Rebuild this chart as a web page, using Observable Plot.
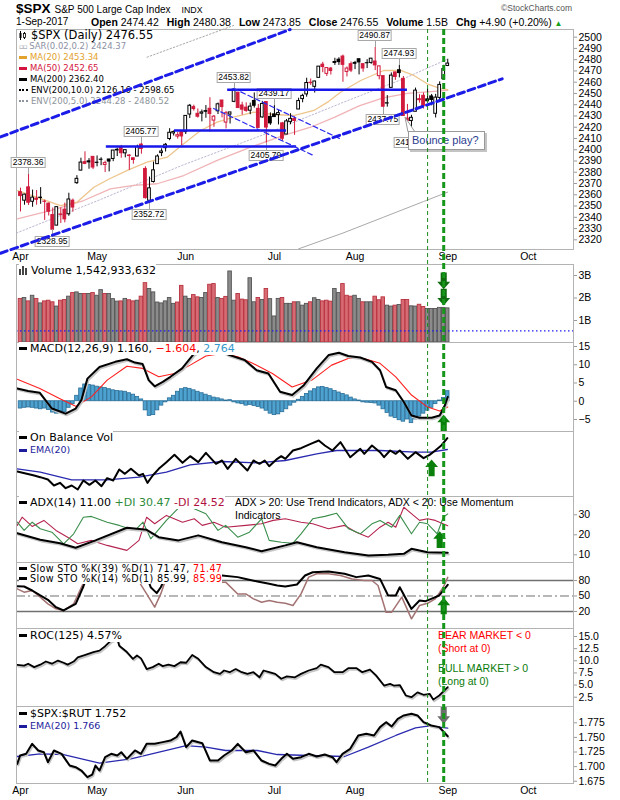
<!DOCTYPE html>
<html>
<head>
<meta charset="utf-8">
<script src="https://cdn.jsdelivr.net/npm/d3@7"></script>
<script src="https://cdn.jsdelivr.net/npm/@observablehq/plot@0.6"></script>
<style>
html,body{margin:0;padding:0;background:#fff;}
#wrap{position:relative;width:620px;height:800px;overflow:hidden;background:#fff;font-family:'Liberation Sans',Arial,sans-serif;color:#000;}
#wrap svg{overflow:visible;}
.t{position:absolute;white-space:nowrap;}
.leg{position:absolute;left:19px;font-family:'DejaVu Sans',Verdana,sans-serif;font-size:11px;line-height:12px;white-space:nowrap;}
.leg .bg{background:#fff;}
.ln{display:inline-block;width:8px;height:3px;vertical-align:middle;margin:0 3px 1px 0;}
.dt{display:inline-block;width:9px;height:0;border-top:2px dotted;vertical-align:middle;margin:0 3px 1px 0;}
.lbl{position:absolute;transform:translateX(-50%);background:#fff;border:1px solid #a8a8a8;font-size:8.5px;line-height:9px;padding:0 1px;white-space:nowrap;font-family:'Liberation Sans',Arial,sans-serif;}
.lead{position:absolute;width:0;border-left:1px solid #a0a0a0;}
#wrap g[aria-label^="y-axis"] line, #wrap g[aria-label^="y-axis"] path{stroke:#9a9a9a;}
</style>
</head>
<body>
<div id="wrap"></div>
<script>
// ---------------- DATA ----------------
const tradingDays = [
 "04-03","04-04","04-05","04-06","04-07","04-10","04-11","04-12","04-13","04-17","04-18","04-19","04-20","04-21","04-24","04-25","04-26","04-27","04-28",
 "05-01","05-02","05-03","05-04","05-05","05-08","05-09","05-10","05-11","05-12","05-15","05-16","05-17","05-18","05-19","05-22","05-23","05-24","05-25","05-26","05-30","05-31",
 "06-01","06-02","06-05","06-06","06-07","06-08","06-09","06-12","06-13","06-14","06-15","06-16","06-19","06-20","06-21","06-22","06-23","06-26","06-27","06-28","06-29","06-30",
 "07-03","07-05","07-06","07-07","07-10","07-11","07-12","07-13","07-14","07-17","07-18","07-19","07-20","07-21","07-24","07-25","07-26","07-27","07-28","07-31",
 "08-01","08-02","08-03","08-04","08-07","08-08","08-09","08-10","08-11","08-14","08-15","08-16","08-17","08-18","08-21","08-22","08-23","08-24","08-25","08-28","08-29","08-30","08-31",
 "09-01"];
const closeBefore = 2362.72;
const open = [
 2362.34,2354.76,2366.59,2353.79,2356.59,2357.16,2353.92,2352.15,2341.98,2332.62,2342.53,2346.79,2342.69,2354.74,2370.33,2381.51,2388.98,2389.70,2393.68,
 2388.50,2391.05,2386.50,2391.36,2391.82,2399.94,2401.58,2396.79,2394.84,2392.44,2393.98,2404.55,2382.95,2354.69,2371.37,2387.21,2397.04,2401.41,2409.54,2414.50,2411.67,2415.63,
 2415.65,2431.28,2437.83,2431.92,2432.03,2434.27,2436.39,2425.88,2434.15,2443.75,2424.14,2431.24,2442.55,2450.66,2439.31,2437.40,2434.65,2443.32,2436.34,2428.70,2442.38,2429.20,
 2431.39,2430.78,2423.44,2413.52,2424.51,2427.35,2435.75,2444.99,2449.16,2459.50,2455.88,2463.85,2475.56,2467.40,2472.04,2477.88,2479.97,2482.76,2469.12,2475.94,
 2477.10,2480.38,2476.03,2476.88,2477.14,2478.35,2465.35,2465.38,2441.04,2454.96,2468.66,2470.60,2462.95,2427.64,2425.50,2433.75,2444.88,2447.91,2444.72,2447.35,2431.94,2446.06,2462.65,
 2474.42];
const high = [
 2365.87,2360.53,2378.36,2364.16,2363.76,2366.37,2355.22,2352.72,2348.26,2349.14,2348.35,2352.63,2361.37,2356.18,2376.98,2392.48,2398.16,2392.10,2393.68,
 2394.49,2392.93,2389.82,2391.43,2399.29,2401.36,2403.87,2399.74,2395.72,2392.44,2404.05,2405.77,2384.87,2375.74,2389.06,2395.46,2400.85,2405.58,2418.71,2416.68,2415.26,2415.99,
 2430.06,2440.23,2439.55,2436.21,2435.28,2439.27,2446.20,2430.38,2441.49,2443.75,2433.95,2433.15,2453.82,2450.66,2442.23,2441.62,2441.40,2450.42,2440.15,2442.97,2442.73,2432.71,
 2439.17,2434.90,2424.28,2426.92,2432.00,2429.30,2445.76,2449.32,2463.54,2462.82,2460.92,2473.83,2477.62,2472.54,2473.10,2481.24,2481.69,2484.04,2473.53,2477.96,
 2478.51,2480.38,2476.03,2480.00,2480.95,2490.87,2474.41,2465.38,2448.09,2468.22,2468.90,2474.93,2465.02,2440.27,2430.58,2454.77,2448.91,2450.39,2453.96,2449.12,2449.19,2460.31,2475.01,
 2480.38];
const low = [
 2344.73,2350.72,2350.52,2348.90,2350.74,2351.50,2337.25,2341.18,2328.95,2332.51,2334.54,2335.05,2340.91,2344.51,2369.19,2381.15,2386.78,2382.68,2382.36,
 2384.83,2385.82,2379.75,2380.35,2389.38,2393.92,2392.44,2392.79,2381.74,2387.19,2393.94,2396.05,2356.21,2352.72,2370.43,2386.92,2393.88,2397.99,2408.01,2412.20,2409.43,2403.59,
 2413.54,2427.71,2434.32,2428.12,2424.75,2427.94,2415.70,2419.97,2431.28,2428.34,2418.53,2422.88,2441.79,2436.60,2430.74,2433.27,2431.11,2437.03,2419.38,2428.02,2405.79,2421.65,
 2428.69,2422.05,2407.70,2413.52,2422.27,2412.79,2435.75,2441.69,2446.69,2457.16,2450.34,2463.85,2468.43,2465.06,2466.32,2474.91,2474.94,2459.93,2464.66,2468.53,
 2471.14,2466.48,2468.85,2472.08,2475.88,2470.32,2462.08,2437.75,2437.85,2454.96,2461.61,2463.86,2430.01,2420.69,2417.35,2433.67,2441.42,2436.19,2442.22,2439.03,2428.20,2443.77,2462.65,
 2473.85];
const close = [
 2358.84,2360.16,2352.95,2357.49,2355.54,2357.16,2353.78,2344.93,2328.95,2349.01,2342.19,2338.17,2355.84,2348.69,2374.15,2388.61,2387.45,2388.77,2384.20,
 2388.33,2391.17,2388.13,2389.52,2399.29,2399.38,2396.92,2399.63,2394.44,2390.90,2402.32,2400.67,2357.03,2365.72,2381.73,2394.02,2398.42,2404.39,2415.07,2415.82,2412.91,2411.80,
 2430.06,2439.07,2436.10,2429.33,2433.14,2433.79,2431.77,2429.39,2440.35,2437.92,2432.46,2433.15,2453.46,2437.03,2435.61,2434.50,2438.30,2439.07,2419.38,2440.69,2419.70,2423.41,
 2429.01,2432.54,2409.75,2425.18,2427.43,2425.53,2443.25,2447.83,2459.27,2459.14,2460.61,2473.83,2473.45,2472.54,2469.91,2477.13,2477.83,2475.42,2472.10,2470.30,
 2476.35,2477.57,2472.16,2476.83,2480.91,2474.92,2474.02,2438.21,2441.32,2465.84,2464.61,2468.11,2430.01,2425.55,2428.37,2452.51,2444.04,2438.97,2443.05,2444.24,2446.30,2457.59,2471.65,
 2476.55];
// volume, billions of shares
const volume = [
 1.96,2.00,1.85,2.10,1.96,1.76,1.85,1.88,1.81,1.62,1.88,1.91,2.06,2.22,2.25,2.18,2.18,2.18,2.22,
 2.10,2.35,2.18,2.18,1.95,1.84,1.85,1.96,1.90,1.85,1.88,2.06,2.66,2.40,2.25,1.80,1.76,1.85,2.00,1.74,1.80,2.54,
 2.06,1.96,2.13,2.03,2.00,2.22,2.59,2.62,2.00,1.96,2.05,3.18,1.88,2.18,1.93,1.90,2.88,1.81,2.00,1.91,2.40,1.95,
 1.18,1.96,2.00,1.74,1.74,1.81,1.81,1.66,1.74,1.81,1.99,1.91,1.85,1.88,1.84,2.40,2.22,2.62,2.10,2.06,
 2.10,1.96,1.81,1.81,1.81,2.06,1.90,2.03,1.66,1.62,1.66,1.69,1.91,1.91,1.63,1.62,1.70,1.60,1.51,1.51,1.51,1.56,1.56,
 1.54];
const lastVolumeExact = 1542933632;
const volumeLevel = 0.54;

// moving averages & envelope as [tradingDayIndex, value]
const ma20 = [[-0.7,2363.7],[4,2358],[9.9,2350.3],[14,2353.4],[18.2,2366.7],[22,2374],[26.5,2381.6],[31.4,2389],[36.4,2393.4],[40.5,2405.3],[44.7,2417.1],[48.8,2424.5],[52.9,2428.9],[57.9,2433.4],[62.9,2431.3],[67.8,2430.4],[72.8,2434.9],[76.5,2443],[79.4,2451.1],[84.4,2461.5],[90.1,2470.4],[94.3,2470.4],[97.6,2466],[100.9,2458.6],[104.2,2454.2],[106,2453.34]];
const ma50 = [[-0.8,2338.7],[7.4,2346],[15.7,2354.9],[22.3,2365.3],[28.1,2368.3],[33.9,2369.8],[40.5,2377.1],[48.8,2390.5],[57.1,2402.3],[65.3,2412.7],[72,2420],[78,2429],[84,2439],[90,2446],[96,2450],[106,2452.65]];
const ma200 = [[69,2312],[80,2326],[90,2340],[100,2354],[106,2362.40]];
const envUpper = [[-1,2326],[20,2356],[40,2386],[60,2413],[80,2442],[95,2463],[106,2480.52]];
const sarValue = 2424.37;
const envWide = [2126.16, 2598.65];
const envNarrow = [2244.28, 2480.52];

// annotations (tradingDayIndex, price)
const channelUpper = [[-4.96,2411.4],[66.9,2506.8]];
const channelLower = [[-4.96,2308.1],[119.5,2463.0]];
const channelOuter = [[31.4,2482.2],[52.9,2510.4]];
const declineA = [[47.9,2436.7],[72.7,2394.9]];
const declineB = [[52.85,2454.4],[79.16,2410.0]];
const levels = [{p:2453.3,i1:51.4,i2:96.0},{p:2417.1,i1:38.2,i2:66.0},{p:2402.9,i1:21.3,i2:68.5}];
const highLabels = [[2,2378.36],[30,2405.77],[53,2453.82],[63,2439.17],[88,2490.87],[94,2474.93]];
const lowLabels = [[8,2328.95],[32,2352.72],[61,2405.79],[90,2437.75],[97,2417.35]];
const calloutText = "Bounce play?";
const calloutAt = [96, 2425.55];
const signalDays = [101, 105];

// MACD
const macdLine = [[-0.8,3.5],[1.9,2.8],[4.8,2.3],[7.8,-2.0],[11.2,-3.4],[13.7,-2.0],[15.1,0.3],[16.6,6.2],[19.6,9.4],[23.5,10.8],[26.4,11.5],[28.4,10.6],[30.3,10.2],[31.8,5.8],[33.3,4.1],[35.3,5.3],[37.2,6.7],[40.1,9.0],[43.1,13.1],[46,14.6],[49,14.4],[51.7,12.7],[55.6,11.3],[58.6,8.5],[61.5,7.6],[64.4,2.6],[67.4,1.7],[70.3,4.4],[73.5,9.0],[76.5,12.7],[79,13.3],[81.3,12.4],[84.3,12.0],[87.2,10.8],[89.2,8.5],[90.7,3.9],[93.1,3.0],[95.1,-0.2],[97,-3.9],[99,-4.5],[102,-4.5],[104,-3.9],[105.3,-1.1],[106,1.160]];
const macdSignal = [[-0.8,6.0],[4.8,3.5],[9.8,0.7],[13.7,-1.4],[17.6,1.2],[21.5,5.8],[26.4,9.6],[30.3,9.0],[34.3,6.7],[38.2,7.6],[42.1,9.9],[46,12.4],[50,13.1],[53.9,12.2],[57.6,10.4],[62.5,7.6],[67.4,3.9],[72.3,5.8],[77.2,9.9],[81.3,11.7],[85.2,11.7],[89.2,10.4],[93.1,6.7],[97,1.7],[101,-1.6],[104,-2.7],[106,-1.604]];
const macdHist = [
 -2.0,-1.8,-1.7,-1.8,-2.0,-2.2,-2.0,-2.4,-3.1,-3.4,-2.8,-3.0,-1.8,
 -0.8,1.5,3.5,4.6,4.5,4.3,4.0,3.8,
 3.6,3.3,3.0,2.8,2.7,2.6,2.2,1.8,1.2,0.5,
 -2.5,-4.0,-3.8,-2.5,-1.2,-0.3,0.8,
 1.5,2.6,3.3,3.6,3.4,3.0,2.6,2.2,
 1.8,1.4,1.0,0.8,0.5,0.2,0.3,
 -0.3,-0.6,-0.8,-1.2,
 -1.0,-1.3,-1.6,-2.0,-2.6,-3.4,-3.8,
 -3.6,-3.0,-2.2,-1.2,-0.4,
 0.4,1.2,2.0,2.7,3.3,3.8,3.9,3.6,
 3.3,2.8,2.4,2.0,1.6,1.0,0.5,0.2,
 -0.3,-0.4,-0.5,-0.6,-1.2,
 -2.2,-3.2,-4.2,-4.6,-5.2,-5.6,-5.0,-6.0,
 -5.0,-4.2,-3.4,-2.6,-1.8,-0.8,0.2,0.9,2.764];

// On Balance Volume (relative units) and its EMA(20)
const obv = [[-0.8,75],[3.4,63],[4.9,58],[6.8,51],[8.3,33],[9.8,41],[11.2,25],[12.7,33],[14.2,21],[15.6,48],[17.1,35],[18.6,48],[20.1,31],[21.5,55],[23,48],[24.5,81],[25.9,68],[27.4,83],[29.4,63],[30.4,68],[31.5,41],[32.8,63],[34.3,83],[36.2,103],[38.2,125],[40.2,101],[42.1,121],[44.1,103],[46,131],[48.5,98],[50,108],[51.4,83],[53.4,113],[56.3,78],[57.8,108],[59.3,98],[60.6,108],[61.7,91],[63.7,113],[64.7,121],[65.7,113],[67.6,138],[69.6,145],[72,158],[74,168],[75.5,153],[77.4,138],[79.4,163],[81.8,118],[84.3,143],[85.3,128],[87.2,153],[89.2,133],[90.2,118],[91.7,138],[93.1,128],[94.1,138],[96.1,113],[98,133],[100,115],[101.5,125],[102.9,138],[104.4,153],[105.9,175]];
const obvEma = [[-0.8,83],[4.9,73],[12.7,50],[21.5,50],[29.4,58],[36.2,73],[42.1,95],[50,105],[58.8,101],[65.7,108],[73.5,128],[78.4,138],[83.3,138],[89.2,138],[98,133],[101.9,133],[105.9,141]];

// ADX / DI
const adx = [[-0.8,20.8],[4.9,17.5],[9.8,15.8],[13.7,13.5],[18.6,17.2],[26.4,23.5],[31.3,22.5],[34.3,18.8],[39.2,17.2],[44.1,19.7],[50,16.3],[55.9,13.8],[59.8,11.8],[65.7,14.7],[68.6,16.3],[73.5,13.8],[80.4,11.3],[86.3,9.7],[91.2,10],[95.1,10.5],[97,13],[101,11.3],[106,11.00]];
const plusDI = [[-0.8,26.3],[0.9,22.2],[2.9,26.3],[4.9,23],[7.8,21.3],[10.7,15.5],[13.2,20.5],[15.6,28.8],[17.6,29.2],[21.5,26.3],[24.5,24.7],[28.4,22.2],[30.4,26.3],[32.3,18],[36.2,27.2],[38.2,31.3],[41.1,37.2],[43.1,33],[46,30.5],[49,22.2],[50.9,24.7],[53.9,18.8],[56.8,21.3],[59.8,28],[61.7,17.2],[64.7,16.3],[67.6,15.8],[69.6,20.5],[72.5,28],[75.5,29.2],[78.4,30.8],[81.4,23],[84.3,20.5],[87.2,25.5],[89.2,27.2],[92.1,23.8],[94.1,29.7],[97,20.5],[99,26.3],[101,25.5],[103.4,20.5],[104.9,28.8],[106,30.47]];
const minusDI = [[-0.8,24.7],[0.4,28.8],[2.9,24.2],[5.8,27.2],[8.8,22.2],[11.7,18.8],[14.2,15.5],[17.6,17.2],[21.5,14.7],[26.4,12.2],[29.4,17.2],[31.3,28.8],[33.3,25.5],[36.2,29.7],[40.2,26.3],[43.1,28],[45.1,24.7],[48,26.3],[50.9,23.8],[55.9,24.7],[59.8,25.5],[62.7,27.2],[65.7,28],[69.6,26.3],[72.5,25.5],[76.4,23],[80.4,24.7],[83.3,21.3],[86.3,18.8],[89.2,23.8],[91.2,26.3],[93.1,23.8],[95.1,33.8],[97.5,29.7],[99,27.2],[101,28],[102.9,27.2],[106,24.52]];

// Slow stochastics
const sto39 = [[-0.8,69],[0.9,68.4],[2.9,60.6],[4.9,51],[6.8,42.6],[8.8,28.4],[10.7,22],[13.7,34.8],[15.6,68.4],[16.6,90],[19.6,98],[24.5,97],[28.4,95],[30.4,88],[31.8,78],[32.3,67],[33.8,55.5],[34.8,67],[36.2,89.7],[40.2,96],[43.1,97],[45.1,89.7],[50,89.7],[53.9,86.5],[55.9,83],[58.8,78],[61.7,73.5],[63.7,70.3],[65.7,68.4],[68.6,72.3],[70.6,89.7],[72.5,96],[76.4,97.4],[80.4,93],[83.3,86.5],[86.3,89.7],[89.2,83],[91.2,51],[93.1,51],[94.1,67],[97,25],[99,41.3],[100.5,40],[101.9,44.5],[103.9,51],[106,71.47]];
const sto14 = [[-0.8,63.9],[0.9,57.4],[2.9,60.6],[4.9,47.7],[6.8,34.8],[8.8,25.2],[10.7,22],[13.2,34.8],[15.6,75],[19.6,96],[24.5,92],[28.4,90],[31.3,54],[33.3,28.4],[34.8,54],[36.2,85],[40.2,95],[43.1,96],[45.1,88],[48,76.8],[50.9,76.8],[53.9,54],[55.9,54],[57.8,44.5],[59.8,38],[61.7,41.3],[63.7,38],[65.7,36],[67.6,31.6],[69.6,54],[71.5,86.5],[73.5,93],[76.4,93],[79.4,89.7],[82.3,83],[85.3,80],[87.2,80],[88.7,70.3],[90.7,18.7],[92.1,18.7],[94.6,47.7],[97,5.8],[99,31.6],[101,36],[102.9,44.5],[104.9,67],[106,85.99]];
const stoLevels = [80, 20];
const stoMid = 50;

// ROC(125)
const roc = [[-0.8,9.16],[0.9,9.0],[1.9,9.4],[3.4,8.7],[4.9,9.2],[6.3,9.85],[7.8,9.4],[9.3,10.05],[10.7,9.6],[11.7,9.2],[13.2,9.85],[14.2,10.7],[16.1,11.2],[18.1,11.8],[19.6,12.1],[21,13.0],[22.5,14.2],[24,14.6],[24.5,13.1],[26.4,11.8],[27.9,10.4],[28.9,11.1],[29.9,10.5],[31.3,8.3],[32.8,8.7],[34.3,9.4],[35.3,8.9],[36.7,9.2],[38.2,8.9],[39.7,9.7],[41.1,9.6],[42.6,11.2],[44.1,10.4],[46,8.7],[48,7.65],[49.5,7.3],[50.5,8.0],[51.9,7.65],[53.4,8.3],[54.9,7.65],[56.3,7.3],[57.8,7.65],[59.3,6.6],[60.3,8.0],[61.7,7.65],[63.2,7.3],[64.7,6.3],[66.1,6.8],[68.1,6.6],[69.6,7.3],[71.5,8.0],[73.5,8.5],[74.5,9.2],[76.4,8.7],[77.9,7.65],[79.9,7.65],[81.4,8.5],[83.3,8.5],[84.8,7.65],[86.7,8.2],[88.2,7.0],[90.2,4.9],[91.7,5.25],[92.6,4.9],[94.1,5.0],[95.6,2.85],[97,2.5],[98.5,3.5],[100,3.0],[101.5,3.2],[102.4,2.0],[103.9,2.85],[106,4.57]];

// $SPX:$RUT ratio and EMA(20)
const ratio = [[-0.8,1.7047],[-0.1,1.719],[1.4,1.7219],[2.9,1.739],[4.4,1.7276],[5.8,1.7247],[6.8,1.7076],[8.3,1.7276],[10.2,1.7219],[12.2,1.7019],[13.7,1.699],[15.1,1.6933],[16.6,1.6819],[17.8,1.6864],[18.6,1.7019],[19.6,1.6933],[21,1.7161],[22.5,1.7219],[24,1.719],[25,1.7247],[26.4,1.7133],[28.4,1.7276],[29.9,1.7219],[31.3,1.739],[33.3,1.739],[35.3,1.7419],[37.2,1.7447],[38.7,1.7504],[39.7,1.7601],[41.1,1.7333],[42.6,1.7447],[45.1,1.7401],[47,1.7104],[49,1.7104],[50.5,1.719],[52.4,1.7276],[53.9,1.739],[55.9,1.7247],[57.8,1.7276],[59.8,1.7104],[61.7,1.7047],[63.2,1.7019],[64.7,1.7133],[66.1,1.7219],[67.6,1.7133],[69.6,1.7161],[71.5,1.7219],[73.5,1.7173],[75.5,1.7207],[77.4,1.7161],[78.4,1.7076],[79.9,1.7219],[81.8,1.7304],[83.8,1.7533],[85.8,1.7561],[87.7,1.7533],[89.2,1.7676],[90.7,1.7761],[92.1,1.7687],[93.6,1.7819],[95.1,1.7876],[97,1.7904],[98.5,1.7876],[100,1.7761],[101.9,1.7704],[103.9,1.7676],[106,1.752]];
const ratioEma = [[-0.8,1.7173],[4.9,1.7219],[10.7,1.7207],[19.6,1.7059],[27.4,1.7133],[36.2,1.7276],[41.1,1.7361],[46,1.7333],[50.9,1.7276],[58.8,1.7276],[63.7,1.7207],[71.5,1.719],[80.4,1.7173],[86.3,1.7333],[93.1,1.7533],[98,1.7664],[101,1.7693],[103.9,1.7676],[106,1.766]];

// arrows [tradingDayIndex, value]
const volArrows = [[105,2.76],[105,2.04]];
const macdArrow = [[105,-6.0]];
const obvArrow = [[102,86]];
const adxArrow = [[104,17.6]];
const stoArrow = [[105,30.7]];
const ratioArrow = [[105,1.7875]];

// ticks
const monthTickIdx = [0,19,41,63,83,106,126];
const monthLabels = ["Apr","May","Jun","Jul","Aug","Sep","Oct"];
const priceTicks = d3.range(2320, 2501, 10);
const volTicks = [1,2,3];
const macdTicks = [15,10,5,0,-5];
const adxTicks = [30,20,10];
const stoTicks = [80,50,20];
const rocTicks = [15,12.5,10,7.5,5,2.5];
const ratioTicks = [1.775,1.75,1.725,1.7,1.675];

// ---------------- LAYOUT ----------------
const wrap = document.getElementById("wrap");
const W = 620, ML = 16, MR = 47;
const xDomain = [-0.99, 137.2];
const axisFont = "'Liberation Sans', Arial, sans-serif";
const monthName = new Map(monthTickIdx.map((d, k) => [d, monthLabels[k]]));
const px = d => d[0], py = d => d[1];
const RED = "#d11a3c";

function addPlot(opts, top) {
  const p = Plot.plot(Object.assign({
    width: W, marginLeft: ML, marginRight: MR, marginTop: 0,
    color: {type: "identity"},
    style: {background: "transparent", overflow: "visible", fontFamily: axisFont, fontSize: "10.5px", color: "#000"}
  }, opts));
  p.style.position = "absolute"; p.style.left = "0px"; p.style.top = top + "px";
  wrap.appendChild(p);
  return p;
}
function yOpt(domain, ticks, fmt) {
  return ticks ? {domain, axis: "right", ticks, tickFormat: fmt, tickSize: 3, tickPadding: 2, label: null}
               : {domain, axis: null};
}
function shadow(data) {
  return Plot.line(data, {x: px, y: py, stroke: "#c6c6c6", strokeWidth: 2, dx: 1, dy: 1.6});
}
function arrowSym(dir) {
  return {draw(ctx, size) {
    const r = Math.sqrt(size / Math.PI);
    const h = 1.05 * r, w = 0.8 * r, hh = 0.95 * r, sw = 0.38 * r, s = dir;
    ctx.moveTo(0, s * h);
    ctx.lineTo(w, s * (h - hh)); ctx.lineTo(sw, s * (h - hh));
    ctx.lineTo(sw, -s * h); ctx.lineTo(-sw, -s * h);
    ctx.lineTo(-sw, s * (h - hh)); ctx.lineTo(-w, s * (h - hh));
    ctx.closePath();
  }};
}
const UP = arrowSym(-1), DOWN = arrowSym(1);
function arrows(data, sym, fill) {
  return Plot.dot(data, {x: px, y: py, r: 8, symbol: sym, fill, stroke: "none"});
}
const frame = () => Plot.frame({stroke: "#b3b3b3"});

// candles
const candles = close.map((c, i) => {
  const prev = i ? close[i - 1] : closeBefore;
  return {i, o: open[i], h: high[i], l: low[i], c, color: c >= prev ? "#000" : RED};
});
const volData = volume.map((v, i) => ({i, v, down: candles[i].color === RED}));

// panels
const PM = {top: 29, bottom: 249, y: [2311.4, 2506.8]};
const PV = {top: 264, bottom: 342, y: [0.022, 3.49]};
const PD = {top: 342, bottom: 431, y: [-8.29, 16.1]};
const PO = {top: 431, bottom: 496, y: [0, 195]};
const PA = {top: 496, bottom: 562, y: [6.15, 39.15]};
const PS = {top: 562, bottom: 628, y: [-12.9, 114.8]};
const PR = {top: 628, bottom: 706, y: [0.585, 16.65]};
const PX = {top: 706, bottom: 783, y: [1.6711, 1.8029]};

const mainPlot = addPlot({
  height: PM.bottom - PM.top + 20, marginBottom: 20,
  x: {domain: xDomain, ticks: monthTickIdx, tickFormat: d => monthName.get(d), tickSize: 0, tickPadding: 3, label: null},
  y: yOpt(PM.y, priceTicks, d3.format("d")),
  marks: [
    Plot.line(envUpper, {x: px, y: py, stroke: "#bdb7d2", strokeWidth: 1, strokeDasharray: "1.5,2"}),
    Plot.line(ma200, {x: px, y: py, stroke: "#a9a9a9", strokeWidth: 1}),
    Plot.line(ma50, {x: px, y: py, stroke: "#f0b3b6", strokeWidth: 1.3}),
    Plot.line(ma20, {x: px, y: py, stroke: "#eec58c", strokeWidth: 1.3}),
    Plot.ruleX(candles, {x: "i", y1: "l", y2: "h", stroke: d => d.color, strokeWidth: 1}),
    Plot.rect(candles, {x1: d => d.i - 0.34, x2: d => d.i + 0.34, y1: "o", y2: d => d.c === d.o ? d.c + 0.3 : d.c,
      fill: d => d.c > d.o ? "#fff" : d.color, stroke: d => d.color, strokeWidth: 1}),
    frame()
  ]
}, PM.top);

addPlot({
  height: PV.bottom - PV.top, marginBottom: 0,
  x: {domain: xDomain, axis: null}, y: yOpt(PV.y, volTicks, d => d + "B"),
  marks: [
    Plot.rect(volData, {x1: d => d.i - 0.44, x2: d => d.i + 0.44, y1: PV.y[0], y2: "v",
      fill: d => d.down ? "#d76b74" : "#8b8b8b", stroke: d => d.down ? "#b8323f" : "#545454", strokeWidth: 0.9}),
    Plot.ruleY([volumeLevel], {stroke: "#1e1ef0", strokeWidth: 1.3, strokeDasharray: "1.5,2.5"}),
    arrows(volArrows, DOWN, "#0e6b0e"),
    frame()
  ]
}, PV.top);

addPlot({
  height: PD.bottom - PD.top, marginBottom: 0,
  x: {domain: xDomain, axis: null}, y: yOpt(PD.y, macdTicks, d3.format("d")),
  marks: [
    Plot.rect(macdHist.map((v, i) => ({i, v})), {x1: d => d.i - 0.44, x2: d => d.i + 0.44, y1: 0, y2: "v", fill: "#4da2d0", stroke: "#2a6e98", strokeWidth: 0.8}),
    Plot.line(macdSignal, {x: px, y: py, stroke: "#ff2020", strokeWidth: 1.1}),
    shadow(macdLine),
    Plot.line(macdLine, {x: px, y: py, stroke: "#000", strokeWidth: 2}),
    arrows(macdArrow, UP, "#0b7f0b"),
    frame()
  ]
}, PD.top);

addPlot({
  height: PO.bottom - PO.top, marginBottom: 0,
  x: {domain: xDomain, axis: null}, y: yOpt(PO.y),
  marks: [
    Plot.line(obvEma, {x: px, y: py, stroke: "#2b2bb0", strokeWidth: 1.3}),
    Plot.line(obv, {x: px, y: py, stroke: "#000", strokeWidth: 2}),
    arrows(obvArrow, UP, "#0b7f0b"),
    frame()
  ]
}, PO.top);

addPlot({
  height: PA.bottom - PA.top, marginBottom: 0,
  x: {domain: xDomain, axis: null}, y: yOpt(PA.y, adxTicks, d3.format("d")),
  marks: [
    Plot.line(minusDI, {x: px, y: py, stroke: "#b5244f", strokeWidth: 1.1}),
    Plot.line(plusDI, {x: px, y: py, stroke: "#3a8e4c", strokeWidth: 1.1}),
    shadow(adx),
    Plot.line(adx, {x: px, y: py, stroke: "#000", strokeWidth: 2}),
    arrows(adxArrow, UP, "#0b7f0b"),
    frame()
  ]
}, PA.top);

addPlot({
  height: PS.bottom - PS.top, marginBottom: 0,
  x: {domain: xDomain, axis: null}, y: yOpt(PS.y, stoTicks, d3.format("d")),
  marks: [
    Plot.ruleY(stoLevels, {stroke: "#707070", strokeWidth: 1.3}),
    Plot.ruleY([stoMid], {stroke: "#707070", strokeWidth: 1, strokeDasharray: "9,3,2,3"}),
    Plot.line(sto14, {x: px, y: py, stroke: "#a37272", strokeWidth: 1.5}),
    Plot.line(sto39, {x: px, y: py, stroke: "#000", strokeWidth: 2}),
    arrows(stoArrow, UP, "#0b7f0b"),
    frame()
  ]
}, PS.top);

addPlot({
  height: PR.bottom - PR.top, marginBottom: 0,
  x: {domain: xDomain, axis: null}, y: yOpt(PR.y, rocTicks, d3.format(".1f")),
  marks: [
    shadow(roc),
    Plot.line(roc, {x: px, y: py, stroke: "#000", strokeWidth: 1.8}),
    frame()
  ]
}, PR.top);

addPlot({
  height: PX.bottom - PX.top + 17, marginBottom: 17,
  x: {domain: xDomain, ticks: monthTickIdx, tickFormat: d => monthName.get(d), tickSize: 0, tickPadding: 3, label: null},
  y: yOpt(PX.y, ratioTicks, d3.format(".3f")),
  marks: [
    Plot.line(ratioEma, {x: px, y: py, stroke: "#2b2bb0", strokeWidth: 1.3}),
    shadow(ratio),
    Plot.line(ratio, {x: px, y: py, stroke: "#000", strokeWidth: 2}),
    arrows(ratioArrow, DOWN, "#6f6f6f"),
    frame()
  ]
}, PX.top);

// ---------------- TEXT ----------------
function el(tag, cls, css, html) {
  const e = document.createElement(tag);
  if (cls) e.className = cls;
  if (css) e.style.cssText = css;
  if (html != null) e.innerHTML = html;
  wrap.appendChild(e);
  return e;
}
const f2 = d3.format(".2f"), f3 = d3.format(".3f");
const last = a => a[a.length - 1][1];
const n = close.length - 1;

// header
el("div", "t", "left:16px;top:0px;line-height:16px;",
  `<b style="font-size:13.5px">$SPX</b><span style="font-size:10px;margin-left:4px">S&amp;P 500 Large Cap Index</span><span style="font-size:8.8px;margin-left:11px">INDX</span>`);
el("div", "t", "right:48px;top:3px;font-size:8.5px;line-height:10px;color:#555;", "©StockCharts.com");
const chg = close[n] - close[n - 1];
el("div", "t", "left:16px;top:16px;font-size:10px;line-height:12px;", "1-Sep-" + "2017");
el("div", "t", "left:91px;top:15.5px;font-size:10.5px;line-height:12px;display:flex;gap:8px;",
  `<span><b>Open</b> ${f2(open[n])}</span><span><b>High</b> ${f2(high[n])}</span><span><b>Low</b> ${f2(low[n])}</span>` +
  `<span><b>Close</b> ${f2(close[n])}</span><span><b>Volume</b> ${d3.format(".1f")(volume[n])}B</span>` +
  `<span><b>Chg</b> ${chg >= 0 ? "+" : ""}${f2(chg)} (${chg >= 0 ? "+" : ""}${f2(chg / close[n - 1] * 100)}%) <span style="color:#17a017;font-size:8px">▲</span></span>`);

// main legend
const candleIcon = `<svg width="9" height="9" style="vertical-align:-1px;margin-right:3px"><line x1="1.5" y1="0" x2="1.5" y2="9" stroke="#000"/><rect x="0.5" y="2" width="2" height="5" fill="#000"/><line x1="5.5" y1="1" x2="5.5" y2="8" stroke="#000"/><rect x="4.5" y="2.5" width="2" height="4" fill="#fff" stroke="#000" stroke-width="0.8"/></svg>`;
el("div", "leg", "top:28.5px;font-size:11.5px;line-height:13px;", `${candleIcon}$SPX (Daily) ${f2(close[n])}`);
const mainLeg = [
  [41, `<span style="color:#8d91a3"><span style="font-size:7px;letter-spacing:-1px">▫▫</span> SAR(0.02,0.2) ${f2(sarValue)}</span>`],
  [52, `<i class="ln" style="background:#e2a22c"></i><span style="color:#e2a22c">MA(20) ${f2(last(ma20))}</span>`],
  [63, `<i class="ln" style="background:#d4143c"></i><span style="color:#d4143c">MA(50) ${f2(last(ma50))}</span>`],
  [74, `<i class="ln" style="background:#000"></i>MA(200) ${f2(last(ma200))}`],
  [84.5, `<i class="dt" style="border-color:#000"></i>ENV(200,10.0) ${f2(envWide[0])} - ${f2(envWide[1])}`],
  [95.5, `<i class="dt" style="border-color:#8e949b"></i><span style="color:#8e949b">ENV(200,5.0) ${f2(envNarrow[0])} - ${f2(envNarrow[1])}</span>`]
];
mainLeg.forEach(([top, html]) => el("div", "leg", `top:${top}px;font-size:8.5px;line-height:11px;`, html));

// price labels
const sx = mainPlot.scale("x"), sy = mainPlot.scale("y");
const toFn = s => (s && typeof s.apply === "function") ? v => s.apply(v) : d3.scaleLinear(s.domain, s.range);
const fx = toFn(sx), fy = toFn(sy);
highLabels.forEach(([i, v]) => {
  const x = fx(i), y = PM.top + fy(v);
  el("div", "lead", `left:${x}px;top:${y - 6}px;height:6px;`);
  el("div", "lbl", `left:${x}px;top:${y - 17}px;`, f2(v));
});
lowLabels.forEach(([i, v]) => {
  const x = fx(i), y = PM.top + fy(v);
  el("div", "lead", `left:${x}px;top:${y}px;height:7px;`);
  el("div", "lbl", `left:${x}px;top:${y + 7}px;`, f2(v));
});

// panel legends
const bar = c => `<i class="ln" style="background:${c}"></i>`;
const volIcon = `<svg width="9" height="9" style="vertical-align:-1px;margin-right:3px"><rect x="0" y="3" width="2" height="6" fill="#444"/><rect x="3" y="0" width="2" height="9" fill="#444"/><rect x="6" y="2" width="2" height="7" fill="#444"/></svg>`;
el("div", "leg", "top:265px;", `<span class="bg">${volIcon}Volume ${d3.format(",")(lastVolumeExact)}</span>`);
el("div", "leg", "top:342.5px;", `<span class="bg">${bar("#000")}MACD(12,26,9) ${f3(last(macdLine))}, <span style="color:#f00">${f3(last(macdSignal))}</span>, <span style="color:#3399cc">${f3(macdHist[n])}</span></span>`);
el("div", "leg", "top:432px;", `<span class="bg">${bar("#000")}On Balance Vol</span>`);
el("div", "leg", "top:444px;font-size:9.5px;line-height:11px;", `<span class="bg" style="color:#1c1c9c">${bar("#1c1c9c")}EMA(20)</span>`);
el("div", "leg", "top:497px;", `<span class="bg">${bar("#000")}ADX(14) ${f2(last(adx))} <span style="color:#2e8b3a">+DI ${f2(last(plusDI))}</span> <span style="color:#b01040">-DI ${f2(last(minusDI))}</span></span>`);
el("div", "t", "left:235px;top:496px;font-size:10.5px;line-height:13px;", "ADX &gt; 20: Use Trend Indicators, ADX &lt; 20: Use Momentum<br>Indicators");
el("div", "leg", "top:564px;font-size:9.6px;line-height:10px;letter-spacing:0.35px;", `<span class="bg">${bar("#000")}Slow STO %K(39) %D(1) ${f2(last(sto39))}, <span style="color:#f00">${f2(last(sto39))}</span></span><br><span class="bg">${bar("#000")}Slow STO %K(14) %D(1) ${f2(last(sto14))}, <span style="color:#f00">${f2(last(sto14))}</span></span>`);
el("div", "leg", "top:629.5px;", `<span class="bg">${bar("#000")}ROC(125) ${f2(last(roc))}%</span>`);
el("div", "t", "left:438px;top:629px;font-size:10.5px;line-height:13.3px;color:#f00;", "BEAR MARKET &lt; 0<br>(Short at 0)");
el("div", "t", "left:438px;top:662px;font-size:10.5px;line-height:13.3px;color:#0a7a0a;", "BULL MARKET &gt; 0<br>(Long at 0)");
el("div", "leg", "top:708px;", `<span class="bg">${bar("#000")}$SPX:$RUT ${f3(last(ratio))}</span>`);
el("div", "leg", "top:720px;font-size:9.5px;line-height:11px;", `<span class="bg" style="color:#1c1c9c">${bar("#1c1c9c")}EMA(20) ${f3(last(ratioEma))}</span>`);

// ---------------- OVERLAYS ----------------
addPlot({
  height: PM.bottom - PM.top + 20, marginBottom: 20,
  x: {domain: xDomain, axis: null}, y: {domain: PM.y, axis: null},
  marks: [
    Plot.line(channelOuter, {x: px, y: py, stroke: "#a9a9a9", strokeWidth: 1, strokeDasharray: "1.5,2"}),
    Plot.ruleY(levels, {y: "p", x1: "i1", x2: "i2", stroke: "#1717ea", strokeWidth: 2.6}),
    Plot.line(declineA, {x: px, y: py, stroke: "#2a2aee", strokeWidth: 1.2, strokeDasharray: "5,3"}),
    Plot.line(declineB, {x: px, y: py, stroke: "#2a2aee", strokeWidth: 1.2, strokeDasharray: "5,3"}),
    Plot.line(channelUpper, {x: px, y: py, stroke: "#1c1ce8", strokeWidth: 3, strokeDasharray: "7,4"}),
    Plot.line(channelLower, {x: px, y: py, stroke: "#1c1ce8", strokeWidth: 3, strokeDasharray: "7,4"})
  ]
}, PM.top);

// callout
{
  const x = fx(calloutAt[0]), y = PM.top + fy(calloutAt[1]);
  el("div", "", `position:absolute;left:${x - 4}px;top:${y - 3}px;width:14px;height:16px;`,
    `<svg width="14" height="16" style="overflow:visible"><polygon points="2,0 5,15 12,15" fill="#fff" stroke="#9a9a9a" stroke-width="1"/></svg>`);
  el("div", "t", `left:${x + 1}px;top:${y + 11}px;width:75px;height:17px;background:#fff;border:1px solid #9a9a9a;box-shadow:2px 2px 0 #c4c4c4;font-size:11px;line-height:17px;color:#2b3d8f;text-indent:3px;`, calloutText);
}

// signal day verticals
addPlot({
  height: 800, marginBottom: 0,
  x: {domain: xDomain, axis: null}, y: {domain: [0, 800], range: [0, 800], axis: null},
  marks: [
    Plot.ruleX([signalDays[0]], {x: d => d, y1: PM.top, y2: PX.bottom, stroke: "#1f8a1f", strokeWidth: 1, strokeDasharray: "4,3"}),
    Plot.ruleX([signalDays[1]], {x: d => d, y1: PM.top, y2: PX.bottom, stroke: "#16961a", strokeWidth: 3, strokeDasharray: "6,3"})
  ]
}, 0);
</script>
</body>
</html>
